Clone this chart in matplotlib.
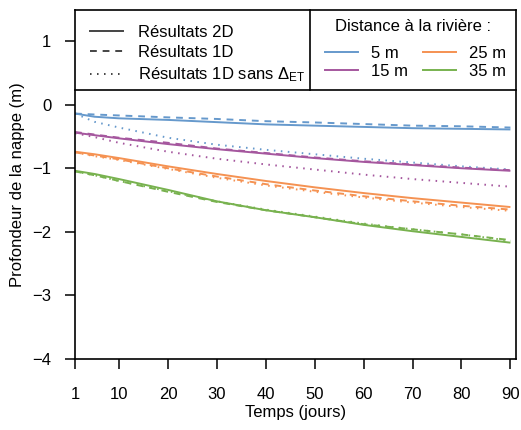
import matplotlib
matplotlib.use('Agg')
import matplotlib.pyplot as plt
from matplotlib.lines import Line2D

plt.rcParams['font.family'] = ['Liberation Sans', 'DejaVu Sans']
plt.rcParams['font.size'] = 12
plt.rcParams['mathtext.fontset'] = 'custom'
plt.rcParams['mathtext.rm'] = 'Liberation Sans'
plt.rcParams['mathtext.it'] = 'Liberation Sans'

# jours
days = [1, 5, 10, 20, 30, 40, 50, 60, 70, 80, 90]

# profondeur de la nappe (m) pour chaque distance à la rivière
d5_2d = [-0.14, -0.19, -0.215, -0.24, -0.275, -0.31, -0.33, -0.35, -0.37, -0.38, -0.39]
d5_1d = [-0.14, -0.155, -0.17, -0.20, -0.225, -0.26, -0.28, -0.305, -0.33, -0.34, -0.36]
d5_1d_sans = [-0.14, -0.27, -0.36, -0.52, -0.63, -0.71, -0.78, -0.85, -0.91, -0.97, -1.02]

d15_2d = [-0.44, -0.48, -0.53, -0.62, -0.70, -0.77, -0.84, -0.90, -0.95, -1.00, -1.04]
d15_1d = [-0.43, -0.47, -0.52, -0.60, -0.69, -0.76, -0.83, -0.89, -0.94, -0.99, -1.03]
d15_1d_sans = [-0.45, -0.51, -0.60, -0.74, -0.85, -0.94, -1.02, -1.10, -1.17, -1.23, -1.29]

d25_2d = [-0.74, -0.78, -0.84, -0.97, -1.09, -1.20, -1.30, -1.39, -1.47, -1.54, -1.61]
d25_1d = [-0.75, -0.80, -0.86, -1.00, -1.13, -1.25, -1.35, -1.44, -1.52, -1.59, -1.65]
d25_1d_sans = [-0.75, -0.81, -0.87, -1.01, -1.15, -1.27, -1.37, -1.46, -1.54, -1.61, -1.67]

d35_2d = [-1.04, -1.09, -1.17, -1.34, -1.52, -1.66, -1.77, -1.89, -1.99, -2.08, -2.17]
d35_1d = [-1.05, -1.11, -1.20, -1.37, -1.53, -1.66, -1.77, -1.88, -1.96, -2.04, -2.13]
d35_1d_sans = [-1.05, -1.11, -1.20, -1.36, -1.52, -1.65, -1.76, -1.87, -1.96, -2.04, -2.14]

distances = ['5 m', '15 m', '25 m', '35 m']
colors = ['#6699CC', '#A5579E', '#F59252', '#78B24F']
series = [(d5_2d, d5_1d, d5_1d_sans), (d15_2d, d15_1d, d15_1d_sans),
          (d25_2d, d25_1d, d25_1d_sans), (d35_2d, d35_1d, d35_1d_sans)]

xticks = [1, 10, 20, 30, 40, 50, 60, 70, 80, 90]
yticks = [-4, -3, -2, -1, 0, 1]

fig = plt.figure(figsize=(5.21, 4.30), dpi=100)
ax = fig.add_axes([0.144, 0.165, 0.846, 0.812])

lw = 1.4
dash = (3.5, 3.0)
dot = (0.8, 2.8)
for (s2d, s1d, s1d_sans), c in zip(series, colors):
    ax.plot(days, s2d, color=c, lw=lw, solid_capstyle='butt')
    ax.plot(days, s1d, color=c, lw=lw, dashes=dash)
    ax.plot(days, s1d_sans, color=c, lw=lw, dashes=dot)

ax.set_xlim(1, 91.1)
ax.set_ylim(-4, 1.49)
ax.set_xticks(xticks)
ax.set_yticks(yticks)
ax.set_yticklabels(['\u22124', '\u22123', '\u22122', '\u22121', '0', '1'])
ax.tick_params(direction='out', length=7, width=1.1)
ax.tick_params(axis='x', pad=13)
ax.tick_params(axis='y', pad=10)
for sp in ax.spines.values():
    sp.set_linewidth(1.2)
ax.set_xlabel('Temps (jours)', labelpad=2)
ax.set_ylabel('Profondeur de la nappe (m)', labelpad=5)

# cadre de la légende
ybox = 0.771
xdiv = 0.534
ax.plot([0, 1], [ybox, ybox], transform=ax.transAxes, color='black', lw=1.2, clip_on=False)
ax.plot([xdiv, xdiv], [ybox, 1], transform=ax.transAxes, color='black', lw=1.2, clip_on=False)

gray = '#444444'
h_type = [Line2D([], [], color=gray, lw=lw),
          Line2D([], [], color=gray, lw=lw, dashes=dash),
          Line2D([], [], color=gray, lw=lw, dashes=dot)]
lab_type = ['Résultats 2D', 'Résultats 1D', 'Résultats 1D sans $\\Delta_{\\mathrm{ET}}$']
leg1 = ax.legend(h_type, lab_type, loc='center left', bbox_to_anchor=(0.034, 0.872),
                 frameon=False, borderpad=0, borderaxespad=0, handlelength=1.95,
                 handletextpad=0.9, labelspacing=0.32)
ax.add_artist(leg1)

h_dist = [Line2D([], [], color=c, lw=lw) for c in colors]
ax.legend(h_dist, distances, ncol=2, loc='center', bbox_to_anchor=(0.773, 0.85),
          frameon=False, borderpad=0, borderaxespad=0, handlelength=1.95,
          handletextpad=0.8, labelspacing=0.18, columnspacing=0.9)
ax.text(0.766, 0.952, 'Distance à la rivière :', transform=ax.transAxes,
        ha='center', va='center')

fig.savefig('out.png', dpi=100)
